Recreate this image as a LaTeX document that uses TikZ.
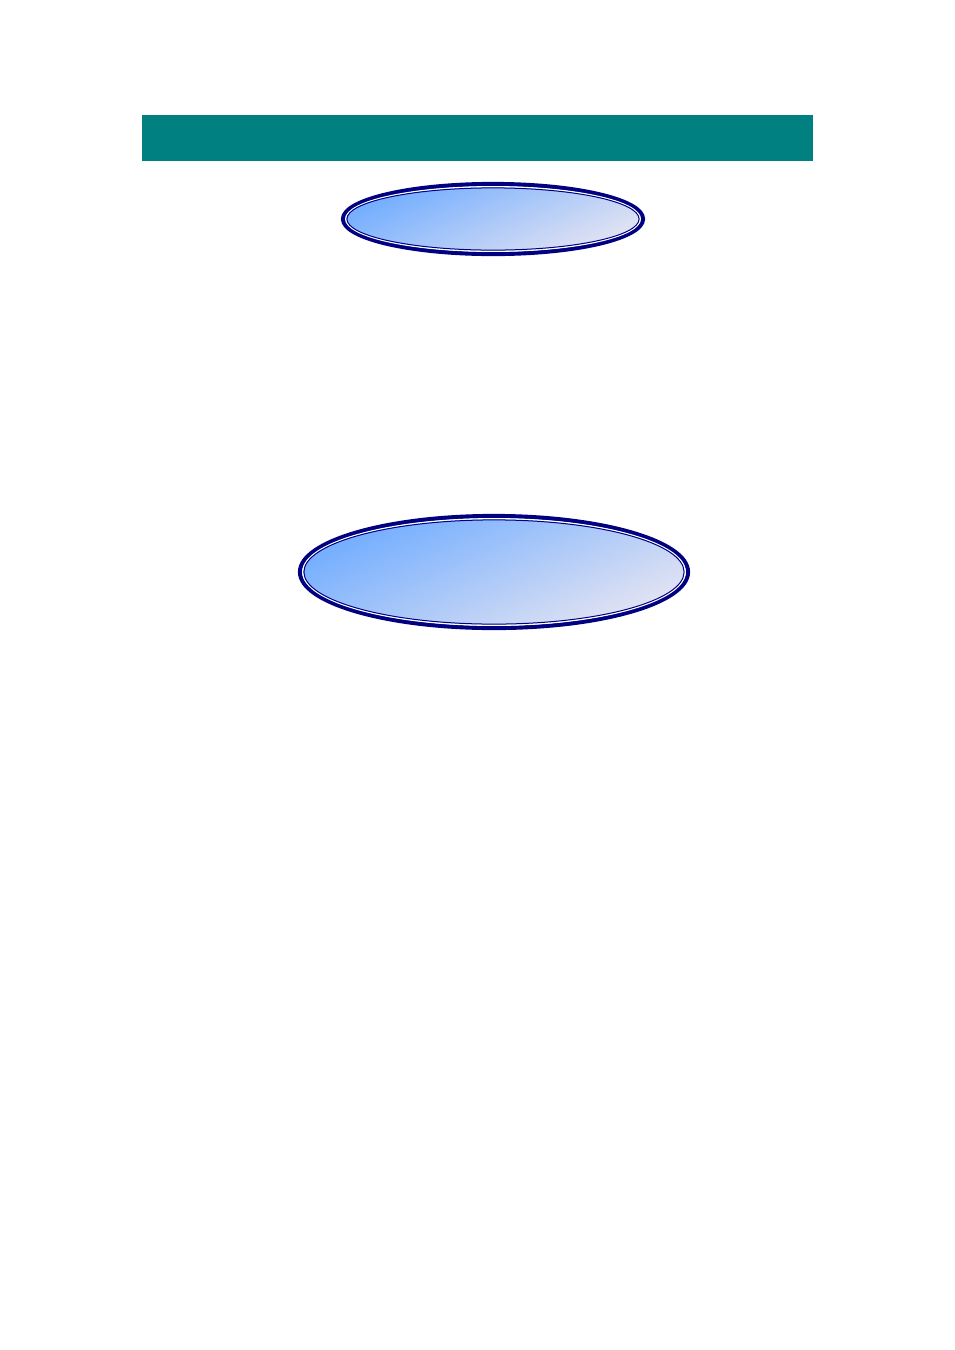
\documentclass[tikz,border=0pt]{standalone}
\usepackage{tikz}
\usetikzlibrary{shapes.geometric}

\definecolor{barteal}{RGB}{0,128,128}
\definecolor{ringblue}{RGB}{0,0,128}
\definecolor{skyblue}{RGB}{112,172,255}
\definecolor{paleblue}{RGB}{150,195,250}
\definecolor{mistblue}{RGB}{228,228,242}

\tikzset{
  bar/.style={rectangle, fill=barteal, inner sep=0pt, minimum width=671pt, minimum height=46pt},
  pool/.style={ellipse, draw=ringblue, line width=4.2pt, inner sep=0pt,
    top color=skyblue, middle color=paleblue, bottom color=mistblue, shading angle=25},
  gap/.style={white, line width=1.3pt},
  rim/.style={ringblue, line width=1pt}
}

\begin{document}
\begin{tikzpicture}[x=1pt,y=-1pt]
	\useasboundingbox (0,0) rectangle (954,1350);

	\node[bar] (title) at (477.5,138) {};

	% upper ellipse
	\node[pool, minimum width=300pt, minimum height=70pt] (upper) at (493,219) {};
	\draw[gap] (upper.center) ellipse [x radius=147.3pt, y radius=32.3pt];
	\draw[rim] (upper.center) ellipse [x radius=146.1pt, y radius=31.1pt];

	% lower ellipse
	\node[pool, minimum width=388pt, minimum height=112pt] (lower) at (494,572) {};
	\draw[gap] (lower.center) ellipse [x radius=191.3pt, y radius=53.3pt];
	\draw[rim] (lower.center) ellipse [x radius=190.1pt, y radius=52.1pt];
\end{tikzpicture}
\end{document}
